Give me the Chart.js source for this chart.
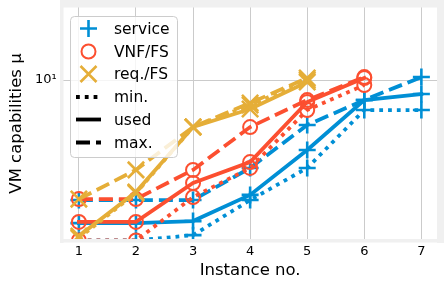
<!DOCTYPE html>
<html>
<head>
<meta charset="utf-8">
<script src="https://cdn.jsdelivr.net/npm/chart.js@4"></script>
<style>
  html, body { margin: 0; padding: 0; background: #fff; }
  #wrap { width: 444px; height: 287px; }
</style>
</head>
<body>
<div id="wrap"><canvas id="capacidades"></canvas></div>
<script>
// dados
const instancias = [1, 2, 3, 4, 5, 6, 7];

const serviceMin  = [2.0, 2.0, 2.11, 3.0, 4.14, 7.4, 7.4];
const serviceUsed = [2.38, 2.38, 2.43, 3.16, 4.96, 8.18, 8.69];
const serviceMax  = [3.0, 3.0, 3.0, 4.14, 6.37, 8.18, 10.3];

const vnfMin  = [2.0, 2.0, 3.09, 4.14, 7.4, 9.51];
const vnfUsed = [2.41, 2.41, 3.56, 4.39, 8.02, 10.2];
const vnfMax  = [3.03, 3.03, 4.06, 6.24, 8.18, 10.3];

const reqMin  = [2.05, 3.22, 6.24, 7.78, 10.0];
const reqUsed = [2.09, 3.25, 6.24, 7.48, 9.8];
const reqMax  = [3.03, 4.06, 6.24, 7.94, 10.2];

const yTicks = [10];
const yTickLabels = ['10¹'];

const AZUL = '#008fd5';
const VERMELHO = '#fc4f30';
const AMARELO = '#e5ae38';
const FONTE = "'DejaVu Sans', sans-serif";

const tracos = {
    min: [3.8, 5],
    used: [],
    max: [14, 6]
};

function serie(label, valores, cor, tipo, estilo) {
    const raio = estilo === 'circle' ? 7 : (estilo === 'crossRot' ? 11.5 : 8.5);
    return {
        label: label,
        data: valores.map(function (v, i) { return { x: instancias[i], y: v }; }),
        borderColor: cor,
        borderWidth: 3.8,
        borderDash: tracos[tipo],
        borderCapStyle: tipo === 'used' ? 'square' : 'butt',
        pointStyle: estilo,
        pointRadius: raio,
        pointBorderColor: cor,
        pointBackgroundColor: 'rgba(0,0,0,0)',
        pointBorderWidth: estilo === 'circle' ? 2 : 2.6,
        fill: false,
        tension: 0,
        clip: 0
    };
}

// ordem: o primeiro fica por cima
const datasets = [
    serie('req. min', reqMin, AMARELO, 'min', 'crossRot'),
    serie('req. used', reqUsed, AMARELO, 'used', 'crossRot'),
    serie('req. max', reqMax, AMARELO, 'max', 'crossRot'),
    serie('vnf min', vnfMin, VERMELHO, 'min', 'circle'),
    serie('vnf used', vnfUsed, VERMELHO, 'used', 'circle'),
    serie('vnf max', vnfMax, VERMELHO, 'max', 'circle'),
    serie('service min', serviceMin, AZUL, 'min', 'cross'),
    serie('service used', serviceUsed, AZUL, 'used', 'cross'),
    serie('service max', serviceMax, AZUL, 'max', 'cross')
];

const itensLegenda = [
    { texto: 'service', marcador: 'cross', cor: AZUL },
    { texto: 'VNF/FS', marcador: 'circle', cor: VERMELHO },
    { texto: 'req./FS', marcador: 'crossRot', cor: AMARELO },
    { texto: 'min.', linha: 'min' },
    { texto: 'used', linha: 'used' },
    { texto: 'max.', linha: 'max' }
];

function desenharMarcador(ctx, tipo, x, y, cor) {
    ctx.strokeStyle = cor;
    ctx.setLineDash([]);
    ctx.beginPath();
    if (tipo === 'circle') {
        ctx.lineWidth = 2;
        ctx.arc(x, y, 7, 0, Math.PI * 2);
    } else if (tipo === 'cross') {
        ctx.lineWidth = 2.6;
        ctx.moveTo(x - 8.5, y); ctx.lineTo(x + 8.5, y);
        ctx.moveTo(x, y - 8.5); ctx.lineTo(x, y + 8.5);
    } else {
        ctx.lineWidth = 2.6;
        const d = 8;
        ctx.moveTo(x - d, y - d); ctx.lineTo(x + d, y + d);
        ctx.moveTo(x - d, y + d); ctx.lineTo(x + d, y - d);
    }
    ctx.stroke();
}

const legendaPlugin = {
    id: 'legenda',
    afterDatasetsDraw(chart) {
        const ctx = chart.ctx;
        ctx.save();
        const bx = 70.5, by = 16.5, bw = 107, bh = 141, r = 4;
        ctx.beginPath();
        ctx.moveTo(bx + r, by);
        ctx.arcTo(bx + bw, by, bx + bw, by + bh, r);
        ctx.arcTo(bx + bw, by + bh, bx, by + bh, r);
        ctx.arcTo(bx, by + bh, bx, by, r);
        ctx.arcTo(bx, by, bx + bw, by, r);
        ctx.closePath();
        ctx.fillStyle = 'rgba(255,255,255,0.8)';
        ctx.fill();
        ctx.lineWidth = 1;
        ctx.strokeStyle = '#cccccc';
        ctx.stroke();

        ctx.font = '15.5px ' + FONTE;
        ctx.textBaseline = 'middle';
        ctx.fillStyle = '#000';
        const linhas = [28.5, 51.5, 74, 97, 119.5, 142.5];
        itensLegenda.forEach(function (item, i) {
            const y = linhas[i];
            if (item.marcador) {
                desenharMarcador(ctx, item.marcador, 88.5, y, item.cor);
            } else {
                ctx.strokeStyle = '#000';
                ctx.lineWidth = 3.8;
                ctx.lineCap = 'butt';
                ctx.setLineDash(tracos[item.linha]);
                ctx.beginPath();
                ctx.moveTo(76, y);
                ctx.lineTo(101, y);
                ctx.stroke();
                ctx.setLineDash([]);
            }
            ctx.fillStyle = '#000';
            ctx.fillText(item.texto, 114, y + 1);
        });
        ctx.restore();
    }
};

// moldura cinza em volta da área do gráfico
const molduraPlugin = {
    id: 'moldura',
    afterDraw(chart) {
        const ctx = chart.ctx;
        ctx.save();
        ctx.fillStyle = '#f0f0f0';
        ctx.fillRect(60, 0, 384, 7.5);
        ctx.fillRect(60, 0, 3.5, 243);
        ctx.fillRect(60, 239, 384, 3.5);
        ctx.fillRect(437, 0, 7, 243);
        ctx.restore();
    }
};

new Chart(document.getElementById('capacidades'), {
    type: 'line',
    data: { datasets: datasets },
    plugins: [legendaPlugin, molduraPlugin],
    options: {
        responsive: true,
        maintainAspectRatio: false,
        animation: false,
        events: [],
        layout: {
            autoPadding: false,
            padding: { top: 6.5, right: 5.5, left: 0, bottom: 0 }
        },
        plugins: {
            legend: { display: false },
            tooltip: { enabled: false }
        },
        scales: {
            x: {
                type: 'linear',
                min: 0.7,
                max: 7.3,
                afterBuildTicks: function (scale) {
                    scale.ticks = instancias.map(function (v) { return { value: v }; });
                },
                afterFit: function (scale) {
                    scale.height = 46.5;
                    scale.paddingLeft = 0;
                    scale.paddingRight = 0;
                },
                grid: { color: '#cbcbcb', lineWidth: 1, drawTicks: false },
                border: { display: false },
                ticks: {
                    color: '#000',
                    padding: 3,
                    font: { family: FONTE, size: 13 },
                    callback: function (v) { return String(v); }
                },
                title: {
                    display: true,
                    text: 'Instance no.',
                    color: '#000',
                    font: { family: FONTE, size: 16.5 },
                    padding: { top: 0, bottom: 6 }
                }
            },
            y: {
                type: 'logarithmic',
                min: 2,
                max: 20.9,
                afterBuildTicks: function (scale) {
                    scale.ticks = yTicks.map(function (v) { return { value: v }; });
                },
                afterFit: function (scale) {
                    scale.width = 61.75;
                    scale.paddingTop = 0;
                    scale.paddingBottom = 0;
                },
                grid: { color: '#cbcbcb', lineWidth: 1, drawTicks: false },
                border: { display: false },
                ticks: {
                    color: '#000',
                    padding: 5,
                    font: { family: FONTE, size: 13 },
                    callback: function (v) {
                        const i = yTicks.indexOf(v);
                        return i >= 0 ? yTickLabels[i] : '';
                    }
                },
                title: {
                    display: true,
                    text: 'VM capabilities μ',
                    color: '#000',
                    font: { family: FONTE, size: 16.5 },
                    padding: { top: 7, bottom: 0 }
                }
            }
        }
    }
});
</script>
</body>
</html>
